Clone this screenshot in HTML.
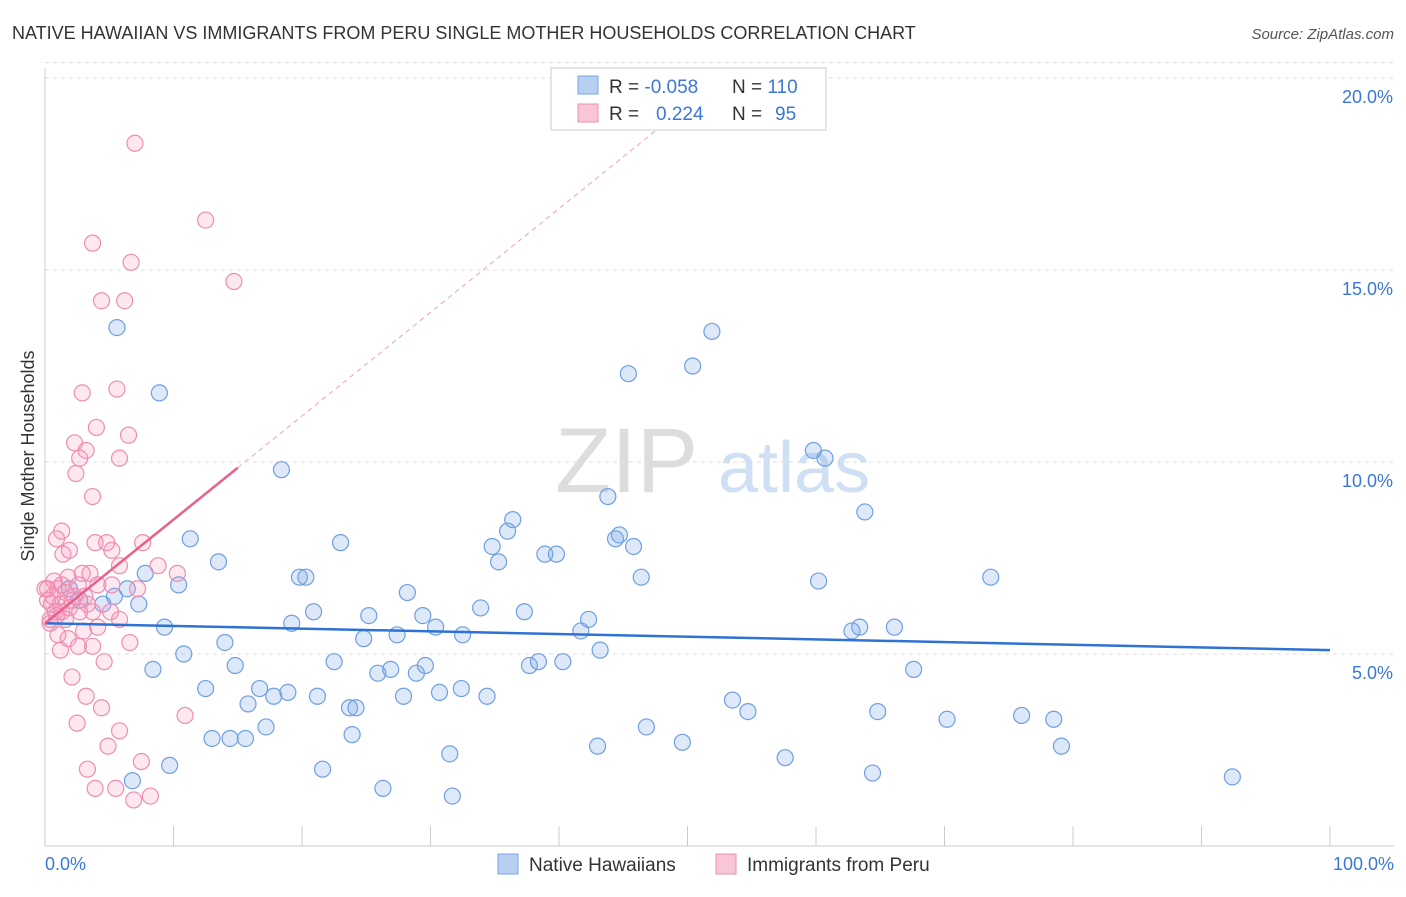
<!DOCTYPE html>
<html><head><meta charset="utf-8"><style>
body{margin:0;background:#fff;font-family:"Liberation Sans",sans-serif}
svg text{font-family:"Liberation Sans",sans-serif}
</style></head><body>
<svg id="chart" width="1406" height="892">
<text x="12" y="39" font-size="18" fill="#333">NATIVE HAWAIIAN VS IMMIGRANTS FROM PERU SINGLE MOTHER HOUSEHOLDS CORRELATION CHART</text>
<text x="1394" y="39" font-size="15" fill="#555" font-style="italic" text-anchor="end">Source: ZipAtlas.com</text>
<g>
<text x="555" y="492" font-size="92" fill="#ddd" font-family="Liberation Serif,serif">ZIP</text>
<text x="718" y="492" font-size="72" fill="#cfe0f4">atlas</text>
</g>
<g id="grid"></g><g id="axes"></g><g id="marks"></g>
<text transform="translate(34,456) rotate(-90)" font-size="18" fill="#333" text-anchor="middle">Single Mother Households</text>
<text x="45" y="870" font-size="18" fill="#3a78d8">0.0%</text>
<text x="1394" y="870" font-size="18" fill="#3a78d8" text-anchor="end">100.0%</text>
<g>
<rect x="551" y="68" width="275" height="62" fill="#fff" stroke="#ccc"/>
<rect x="578" y="76" width="20" height="18" fill="#b7d0f2" stroke="#7aa6e4"/>
<rect x="578" y="104" width="20" height="18" fill="#f8c6d6" stroke="#ee90b0"/>
<text x="609" y="93" font-size="19" fill="#333">R = <tspan fill="#3a78d8">-0.058</tspan><tspan x="732">N = </tspan><tspan fill="#3a78d8">110</tspan></text>
<text x="609" y="120" font-size="19" fill="#333">R = <tspan x="656" fill="#3a78d8">0.224</tspan><tspan x="732">N = </tspan><tspan x="775" fill="#3a78d8">95</tspan></text>
</g>
<g>
<rect x="498" y="854" width="20" height="20" fill="#b7d0f2" stroke="#7aa6e4"/>
<text x="529" y="871" font-size="19" fill="#333">Native Hawaiians</text>
<rect x="716" y="854" width="20" height="20" fill="#f8c6d6" stroke="#ee90b0"/>
<text x="747" y="871" font-size="19" fill="#333">Immigrants from Peru</text>
</g>
</svg>
<script>
const yTicks=[5,10,15,20];
const yTickLabels=["5.0%","10.0%","15.0%","20.0%"];
const xTicks=[0,10,20,30,40,50,60,70,80,90,100];
const blueX=[5.6,8.9,18.4,51.9,45.4,50.4,59.8,60.7,63.8,43.8,36.4,36.0,34.8,35.3,38.9,39.8,44.4,44.7,45.8,46.4,73.6,60.2,23.0,19.8,20.3,11.3,13.5,7.8,10.4,6.4,7.3,4.5,5.4,1.9,2.7,28.2,20.9,25.2,29.4,33.9,37.3,42.3,41.7,30.4,32.5,27.4,24.8,19.2,14.0,9.3,43.2,37.7,38.4,40.3,22.5,25.9,26.9,28.9,29.6,10.8,8.4,14.8,62.8,63.4,66.1,67.6,12.5,16.7,17.8,18.9,21.2,23.7,24.2,27.9,30.7,32.4,34.4,53.5,54.7,64.8,70.2,76.0,78.5,79.1,46.8,17.2,13.0,14.4,15.6,23.9,31.5,43.0,49.6,57.6,64.4,92.4,9.7,6.8,21.6,26.3,31.7,15.8];
const blueY=[13.5,11.8,9.8,13.4,12.3,12.5,10.3,10.1,8.7,9.1,8.5,8.2,7.8,7.4,7.6,7.6,8.0,8.1,7.8,7.0,7.0,6.9,7.9,7.0,7.0,8.0,7.4,7.1,6.8,6.7,6.3,6.3,6.5,6.7,6.4,6.6,6.1,6.0,6.0,6.2,6.1,5.9,5.6,5.7,5.5,5.5,5.4,5.8,5.3,5.7,5.1,4.7,4.8,4.8,4.8,4.5,4.6,4.5,4.7,5.0,4.6,4.7,5.6,5.7,5.7,4.6,4.1,4.1,3.9,4.0,3.9,3.6,3.6,3.9,4.0,4.1,3.9,3.8,3.5,3.5,3.3,3.4,3.3,2.6,3.1,3.1,2.8,2.8,2.8,2.9,2.4,2.6,2.7,2.3,1.9,1.8,2.1,1.7,2.0,1.5,1.3,3.7];
const pinkX=[7.0,12.5,3.7,6.7,14.7,4.4,6.2,2.9,5.6,4.0,6.5,2.3,3.2,2.7,5.8,2.4,3.7,1.3,0.9,3.9,4.8,1.4,5.2,7.6,1.9,8.8,5.8,10.3,0.7,1.8,2.9,3.5,4.1,5.2,7.2,0.2,1.0,1.6,2.3,3.1,1.2,0.5,1.9,0.8,3.7,5.1,0.4,1.6,5.8,4.1,3.0,1.0,1.8,6.6,2.6,3.7,1.2,4.6,2.1,3.2,4.4,10.9,2.5,5.8,4.9,3.3,7.5,3.9,5.5,8.2,6.9,0.2,0.4,0.6,0.9,1.3,2.1,2.7,3.3,0.0,1.3,2.6];
const pinkY=[18.3,16.3,15.7,15.2,14.7,14.2,14.2,11.8,11.9,10.9,10.7,10.5,10.3,10.1,10.1,9.7,9.1,8.2,8.0,7.9,7.9,7.6,7.7,7.9,7.7,7.3,7.3,7.1,6.9,7.0,7.1,7.1,6.8,6.8,6.7,6.7,6.7,6.6,6.5,6.5,6.3,6.3,6.2,6.1,6.1,6.1,5.9,5.9,5.9,5.7,5.6,5.5,5.4,5.3,5.2,5.2,5.1,4.8,4.4,3.9,3.6,3.4,3.2,3.0,2.6,2.0,2.2,1.5,1.5,1.3,1.2,6.4,5.8,6.5,6.0,6.1,6.4,6.1,6.3,6.7,6.8,6.8];
const blueTrend=[5.8,5.1];
const pinkTrend=[5.8,0.27];
const NS="http://www.w3.org/2000/svg";
const X=v=>45+v*12.85, Y=v=>846-v*38.4;
function mk(tag,attrs,parent){const e=document.createElementNS(NS,tag);for(const k in attrs)e.setAttribute(k,attrs[k]);parent.appendChild(e);return e;}
const grid=document.getElementById('grid'),axes=document.getElementById('axes'),marks=document.getElementById('marks');
yTicks.forEach((t,i)=>{
 const l=mk('line',{x1:45,x2:1394,y1:Y(t),y2:Y(t),stroke:'#ddd','stroke-dasharray':'4,4'},grid);
 
 
 const tx=mk('text',{x:1393,y:Y(t)+25,'font-size':18,fill:'#3a78d8','text-anchor':'end'},axes);
 tx.textContent=yTickLabels[i];
 
 
});
const tl=mk('line',{x1:45,x2:1394,y1:Y(20.4),y2:Y(20.4),stroke:'#ddd','stroke-dasharray':'4,4'},grid);


const ya=mk('line',{x1:45,x2:45,y1:68,y2:846,stroke:'#ccc'},axes);


const xa=mk('line',{x1:45,x2:1394,y1:846,y2:846,stroke:'#ccc'},axes);


xTicks.forEach(t=>{
 const l=mk('line',{x1:X(t),x2:X(t),y1:826,y2:846,stroke:'#ccc'},axes);
 
 
});
blueX.forEach((x,i)=>{
 const c=mk('circle',{cx:X(x),cy:Y(blueY[i]),r:8,fill:'rgba(120,165,230,0.25)',stroke:'#6f9fe2','stroke-width':1.2},marks);
 
 
});
pinkX.forEach((x,i)=>{
 const c=mk('circle',{cx:X(x),cy:Y(pinkY[i]),r:8,fill:'rgba(245,150,185,0.22)',stroke:'#f08cb0','stroke-width':1.2},marks);
 
 
});
const bt=mk('line',{x1:X(0),y1:Y(blueTrend[0]),x2:X(100),y2:Y(blueTrend[1]),stroke:'#2f72d6','stroke-width':2.5},marks);


const pend=(20-pinkTrend[0])/pinkTrend[1];
const pd=mk('line',{x1:X(15),y1:Y(pinkTrend[0]+15*pinkTrend[1]),x2:X(pend),y2:Y(20),stroke:'#f0a0bc','stroke-width':1,'stroke-dasharray':'5,4'},marks);


const pt=mk('line',{x1:X(0),y1:Y(pinkTrend[0]),x2:X(15),y2:Y(pinkTrend[0]+15*pinkTrend[1]),stroke:'#e8608e','stroke-width':2.5},marks);


</script>
</body></html>
